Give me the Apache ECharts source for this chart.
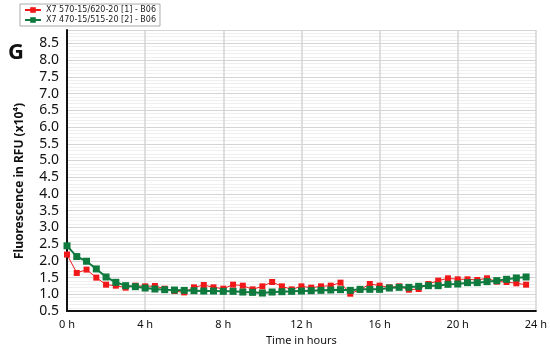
<!DOCTYPE html>
<html>
<head>
<meta charset="utf-8">
<script src="https://cdn.jsdelivr.net/npm/echarts@6/dist/echarts.min.js"></script>
<style>
  html, body { margin: 0; padding: 0; background: #fff; }
  #chart { width: 550px; height: 351px; }
</style>
</head>
<body>
<div id="chart"></div>
<script>
// time points, every half hour from 0 h to 23.5 h
const hours = [0, 0.5, 1, 1.5, 2, 2.5, 3, 3.5, 4, 4.5, 5, 5.5, 6, 6.5, 7, 7.5, 8, 8.5, 9, 9.5,
  10, 10.5, 11, 11.5, 12, 12.5, 13, 13.5, 14, 14.5, 15, 15.5, 16, 16.5, 17, 17.5, 18, 18.5, 19, 19.5,
  20, 20.5, 21, 21.5, 22, 22.5, 23, 23.5]

const red620 = [2.19, 1.64, 1.74, 1.50, 1.29, 1.26, 1.20, 1.26, 1.24, 1.25, 1.17, 1.10, 1.06, 1.21, 1.28, 1.21,
  1.17, 1.29, 1.26, 1.15, 1.24, 1.37, 1.24, 1.15, 1.24, 1.20, 1.24, 1.26, 1.35, 1.02, 1.14, 1.31,
  1.26, 1.21, 1.24, 1.14, 1.16, 1.31, 1.41, 1.48, 1.45, 1.45, 1.43, 1.48, 1.38, 1.37, 1.33, 1.29]

const green515 = [2.45, 2.13, 1.99, 1.76, 1.52, 1.36, 1.26, 1.23, 1.19, 1.16, 1.14, 1.13, 1.12, 1.11, 1.10, 1.10,
  1.09, 1.09, 1.07, 1.06, 1.04, 1.07, 1.08, 1.09, 1.10, 1.11, 1.12, 1.13, 1.14, 1.12, 1.15, 1.15,
  1.15, 1.19, 1.21, 1.21, 1.24, 1.26, 1.26, 1.30, 1.31, 1.35, 1.35, 1.38, 1.41, 1.45, 1.49, 1.52]

const seriesNames = ['X7 570-15/620-20 [1] - B06', 'X7 470-15/515-20 [2] - B06']

const chart = echarts.init(document.getElementById('chart'))

const pairs = arr => hours.map((h, i) => [h, arr[i]])

chart.setOption({
  animation: false,
  textStyle: { fontFamily: 'Noto Sans' },
  graphic: [
    {
      type: 'text',
      left: 8,
      top: 42,
      style: { text: 'G', font: 'bold 22px "Open Sans"', fill: '#111' }
    },
    {
      // y axis title, placed by hand so it sits a little below the plot middle like the original
      type: 'text',
      x: 20,
      y: 181,
      rotation: Math.PI / 2,
      style: {
        text: 'Fluorescence in RFU (x10\u2074)',
        font: 'bold 12px "Noto Sans"',
        fill: '#111',
        align: 'center',
        verticalAlign: 'middle'
      }
    }
  ],
  legend: {
    orient: 'vertical',
    left: 20,
    top: 4,
    itemWidth: 16,
    itemHeight: 7,
    itemGap: 2,
    padding: [2, 4],
    backgroundColor: '#fff',
    borderColor: '#aaa',
    borderWidth: 1,
    textStyle: { fontSize: 8, fontFamily: 'DejaVu Sans', color: '#222' },
    data: seriesNames
  },
  grid: { left: 67, right: 13, top: 30, bottom: 34 },
  xAxis: {
    type: 'value',
    min: 0,
    max: 24,
    interval: 4,
    name: 'Time in hours',
    nameLocation: 'middle',
    nameGap: 20,
    nameTextStyle: { fontSize: 11, color: '#111' },
    axisLine: { lineStyle: { color: '#111', width: 2 } },
    axisTick: { show: false },
    axisLabel: { formatter: '{value} h', fontSize: 11, color: '#111', margin: 8 },
    splitLine: { show: true, lineStyle: { color: '#d4d4d4', width: 1.5 } }
  },
  yAxis: {
    type: 'value',
    min: 0.5,
    max: 8.9,
    interval: 0.5,
    axisLine: { show: true, lineStyle: { color: '#111', width: 2 } },
    axisTick: { show: false },
    axisLabel: {
      formatter: v => v.toFixed(1),
      fontSize: 14,
      color: '#111',
      margin: 8,
      showMaxLabel: false
    },
    splitLine: { lineStyle: { color: '#d4d4d4', width: 1 } },
    minorTick: { show: false, splitNumber: 5 },
    minorSplitLine: { show: true, lineStyle: { color: '#efefef', width: 1 } }
  },
  series: [
    {
      name: seriesNames[0],
      type: 'line',
      data: pairs(red620),
      symbol: 'rect',
      symbolSize: 6,
      color: '#f01818',
      lineStyle: { width: 1, color: '#f01818' },
      itemStyle: { color: '#f01818' },
      z: 2
    },
    {
      name: seriesNames[1],
      type: 'line',
      data: pairs(green515),
      symbol: 'rect',
      symbolSize: 7,
      color: '#0f7a3e',
      lineStyle: { width: 2, color: '#0f7a3e' },
      itemStyle: { color: '#0f7a3e' },
      z: 3
    }
  ]
})
</script>
</body>
</html>
